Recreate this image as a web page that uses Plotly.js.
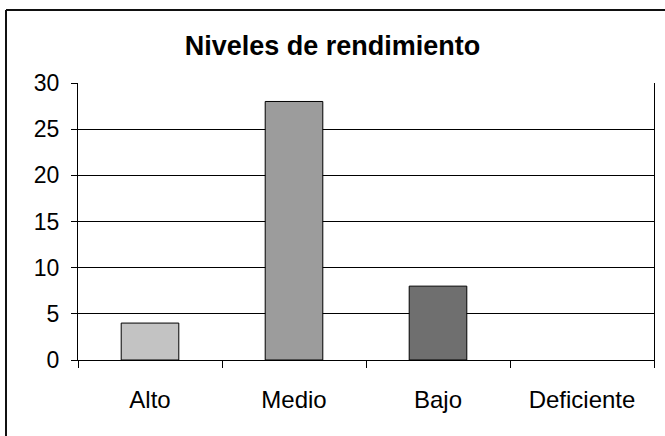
<!DOCTYPE html>
<html>
<head>
<meta charset="utf-8">
<script src="https://cdn.plot.ly/plotly-3.0.1.min.js"></script>
<style>html,body{margin:0;padding:0;background:#fff;}#chart{width:665px;height:436px;}</style>
</head>
<body>
<div id="chart"></div>
<script>
const categories = ["Alto", "Medio", "Bajo", "Deficiente"];
const values = [4, 28, 8, 0];
const barColors = ["#c3c3c3", "#9c9c9c", "#6f6f6f", "#4a4a4a"];
const yTicks = [0, 5, 10, 15, 20, 25, 30];
const chartTitle = "Niveles de rendimiento";

const trace = {
  type: "bar",
  x: categories,
  y: values,
  marker: { color: barColors, line: { color: "#000", width: values.map(v => v > 0 ? 1 : 0) } },
  hoverinfo: "none"
};

const layout = {
  width: 665, height: 436,
  margin: { l: 78, r: 11, t: 83, b: 76, pad: 0 },
  paper_bgcolor: "#fff", plot_bgcolor: "#fff",
  font: { family: "Liberation Sans, Arial, sans-serif", color: "#000", size: 23 },
  title: { text: "<b>" + chartTitle + "</b>", font: { size: 27, color: "#000" }, x: 0.5, xanchor: "center", y: 0.895, yanchor: "middle" },
  bargap: 0.6,
  showlegend: false,
  xaxis: {
    type: "category", range: [-0.5, 3.5],
    tickson: "boundaries", ticks: "outside", ticklen: 7, tickcolor: "#000", tickwidth: 1,
    showline: true, linecolor: "#000", linewidth: 1,
    showgrid: false, zeroline: false,
    ticklabelstandoff: 18,
    tickfont: { size: 24 }
  },
  yaxis: {
    range: [0, 30], tickvals: yTicks, ticktext: yTicks.map(String),
    ticks: "outside", ticklen: 6, tickcolor: "#000", tickwidth: 1,
    showline: true, linecolor: "#000", linewidth: 1, mirror: true,
    showgrid: true, gridcolor: "#000", gridwidth: 1,
    zeroline: false,
    ticklabelstandoff: 7,
    tickfont: { size: 23 }
  },
  shapes: [
    { type: "line", xref: "paper", yref: "paper", x0: -0.125, x1: 1.05, y0: 1.2635, y1: 1.2635, line: { color: "#111", width: 2 } },
    { type: "line", xref: "paper", yref: "paper", x0: -0.125, x1: -0.125, y0: 1.2635, y1: -0.3, line: { color: "#111", width: 2 } }
  ]
};

Plotly.newPlot("chart", [trace], layout, { staticPlot: true, displayModeBar: false });
</script>
</body>
</html>
